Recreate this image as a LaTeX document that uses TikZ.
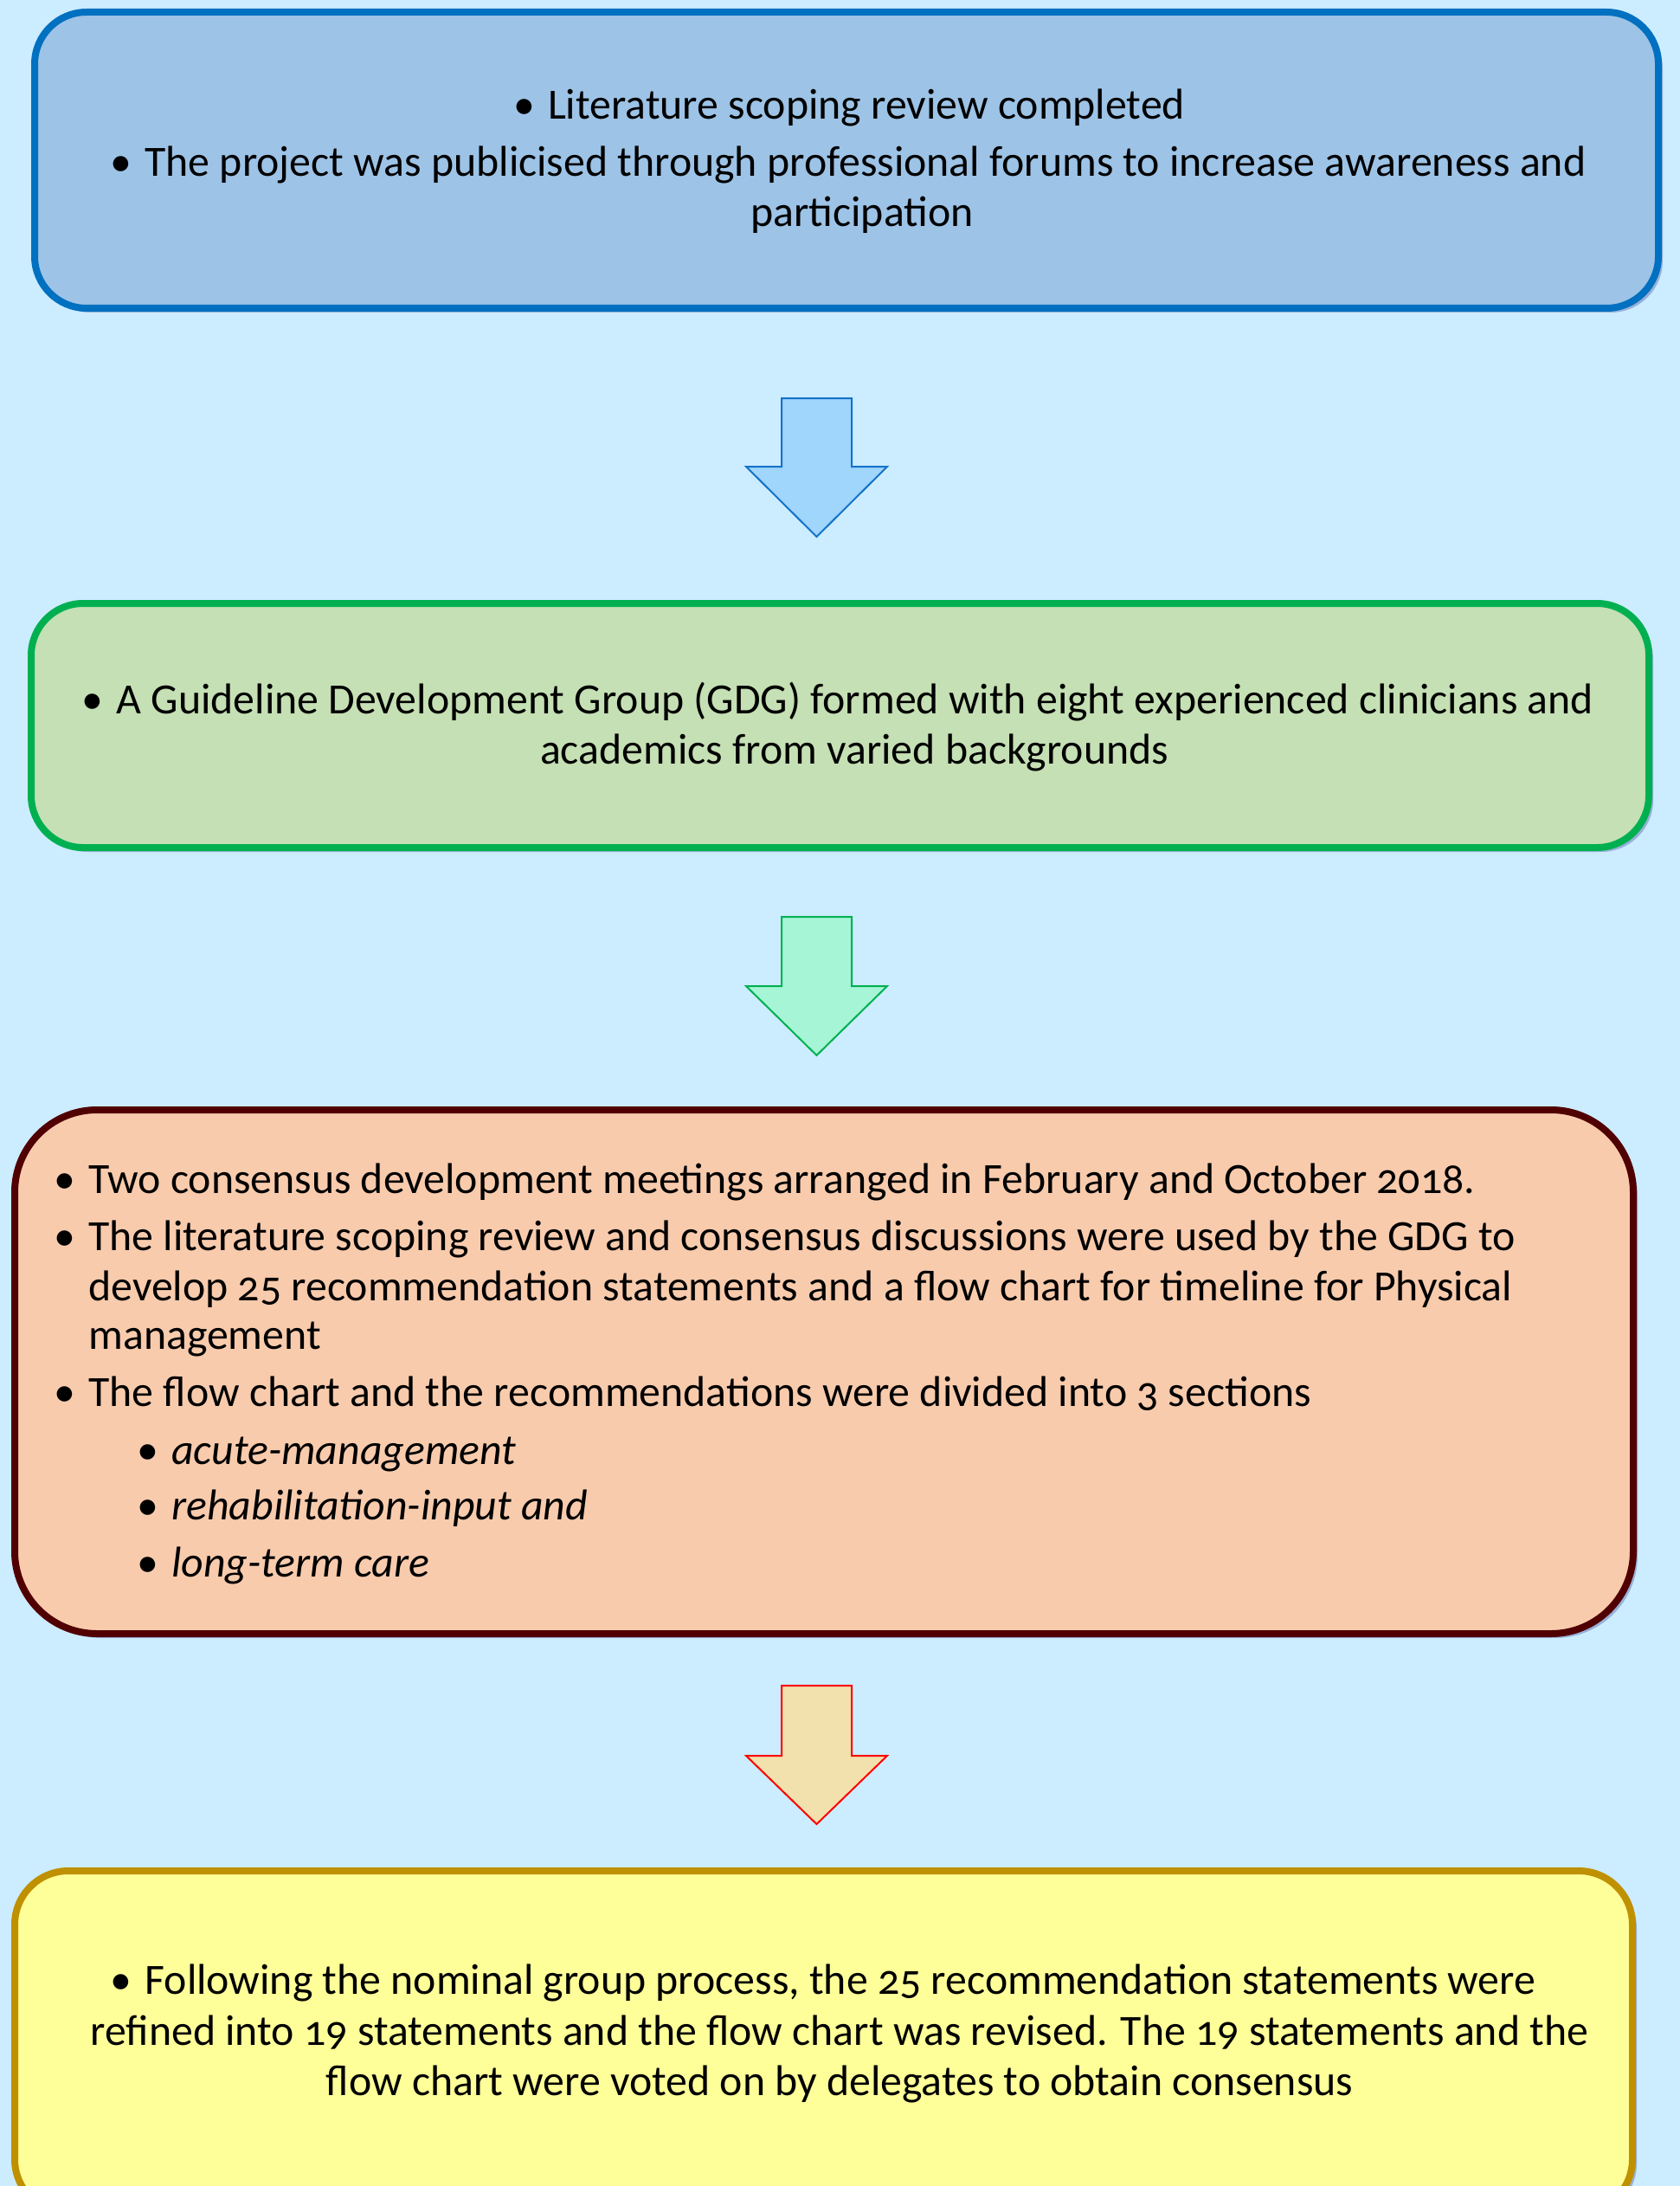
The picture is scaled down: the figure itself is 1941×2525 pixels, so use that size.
\documentclass[tikz,border=0pt]{standalone}
\usepackage{fontspec}
\setmainfont{Carlito}[Numbers=OldStyle]
\usetikzlibrary{shadows}
\definecolor{bgc}{RGB}{204,236,255}
\definecolor{f1}{RGB}{157,195,230}\definecolor{d1}{RGB}{0,112,192}
\definecolor{f2}{RGB}{197,224,180}\definecolor{d2}{RGB}{0,176,80}
\definecolor{f3}{RGB}{248,203,173}\definecolor{d3}{RGB}{80,0,0}
\definecolor{f4}{RGB}{255,255,153}\definecolor{d4}{RGB}{191,144,0}
\definecolor{a1}{RGB}{160,213,252}\definecolor{ad1}{RGB}{20,115,200}
\definecolor{a2}{RGB}{166,245,214}\definecolor{ad2}{RGB}{0,176,80}
\definecolor{a3}{RGB}{242,225,172}\definecolor{ad3}{RGB}{255,0,0}
\newcommand{\bul}{\makebox[20pt][l]{•}}
\begin{document}
\begin{tikzpicture}[x=0.5pt,y=-0.5pt,
  boxs/.style={draw, line width=4pt, inner sep=0pt,
    drop shadow={shadow xshift=2.5pt, shadow yshift=-2.5pt, opacity=0.25, fill=black!60!blue}},
  txt/.style={inner sep=0pt, anchor=base, font=\fontsize{24.9}{30}\selectfont},
  ltxt/.style={txt, anchor=base west},
  arr/.style={line width=1pt, line join=miter}]
\clip (0,0) rectangle (1941,2525);
\fill[bgc] (0,0) rectangle (1941,2525);
% boxes
\node[boxs, fill=f1, draw=d1, rounded corners=30pt, minimum width=938pt, minimum height=171pt] (b1) at (978,185) {};
\node[boxs, fill=f2, draw=d2, rounded corners=30pt, minimum width=934.5pt, minimum height=141pt] (b2) at (970.5,838) {};
\node[boxs, fill=f3, draw=d3, rounded corners=47.5pt, minimum width=935pt, minimum height=302.5pt] (b3) at (952,1584.5) {};
\node[boxs, fill=f4, draw=d4, rounded corners=31pt, minimum width=934.5pt, minimum height=197.5pt] (b4) at (951.5,2358.5) {};
% arrows
\draw[arr, fill=a1, draw=ad1] (903,460) -- (984,460) -- (984,539) -- (1025,539) -- (943.5,620) -- (862,539) -- (903,539) -- cycle;
\draw[arr, fill=a2, draw=ad2] (903,1059) -- (984,1059) -- (984,1139) -- (1025,1139) -- (943.5,1219) -- (862,1139) -- (903,1139) -- cycle;
\draw[arr, fill=a3, draw=ad3] (903,1947) -- (984,1947) -- (984,2028) -- (1025,2028) -- (943.5,2107) -- (862,2028) -- (903,2028) -- cycle;
% box 1 text
\node[txt] (t11) at (981,138) {\bul Literature scoping review completed};
\node[txt] (t12) at (980,204) {\bul The project was publicised through professional forums to increase awareness and};
\node[txt] (t13) at (996,262) {participation};
% box 2 text
\node[txt] (t21) at (968,824) {\bul A Guideline Development Group (GDG) formed with eight experienced clinicians and};
\node[txt] (t22) at (987,882) {academics from varied backgrounds};
% box 3 text
\node[ltxt] (t31) at (62,1378) {\bul Two consensus development meetings arranged in February and October 2018.};
\node[ltxt] (t32) at (62,1444) {\bul The literature scoping review and consensus discussions were used by the GDG to};
\node[ltxt] (t33) at (102,1502) {develop 25 recommendation statements and a flow chart for timeline for Physical};
\node[ltxt] (t34) at (102,1558) {management};
\node[ltxt] (t35) at (62,1624) {\bul The flow chart and the recommendations were divided into 3 sections};
\node[ltxt] (t36) at (158,1691) {\bul\itshape acute-management};
\node[ltxt] (t37) at (158,1755) {\bul\itshape rehabilitation-input and};
\node[ltxt] (t38) at (158,1821) {\bul\itshape long-term care};
% box 4 text
\node[txt] (t41) at (951,2303) {\bul Following the nominal group process, the 25 recommendation statements were};
\node[txt] (t42) at (970,2362) {refined into 19 statements and the flow chart was revised. The 19 statements and the};
\node[txt] (t43) at (970,2420) {flow chart were voted on by delegates to obtain consensus};
\end{tikzpicture}
\end{document}
